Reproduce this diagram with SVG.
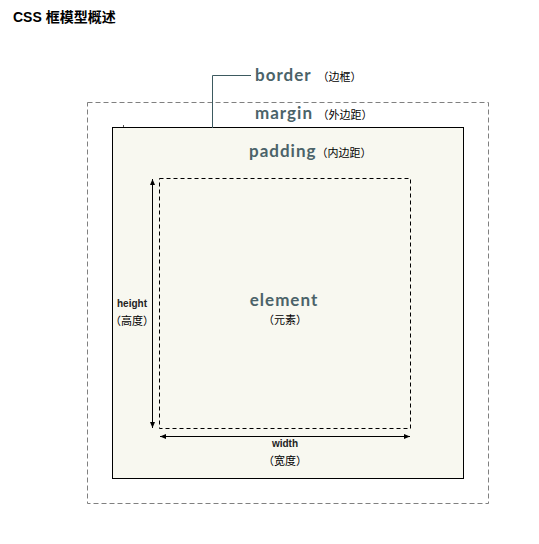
<svg xmlns="http://www.w3.org/2000/svg" width="539" height="544" viewBox="0 0 539 544">
<defs>
<style>
.title{font-family:"Liberation Sans","Noto Sans CJK SC",sans-serif;font-weight:bold;font-size:14px;fill:#000}
.big{font-family:Lato,"Open Sans",sans-serif;font-weight:bold;font-size:17px;letter-spacing:1px;fill:#4b6369}
.cn{font-family:"Noto Sans CJK SC",sans-serif;font-size:11px;fill:#000;font-feature-settings:"halt"}
.small{font-family:"Liberation Sans",sans-serif;font-weight:bold;font-size:10px;fill:#222}
.dim{stroke:#000;stroke-width:1;fill:none}
</style>
<marker id="ah" viewBox="0 0 6 6" refX="6" refY="3" markerWidth="6" markerHeight="6" orient="auto-start-reverse" markerUnits="userSpaceOnUse">
<path d="M0,0.5 L6,3 L0,5.5 Z" fill="#000"/>
</marker>
</defs>
<rect width="539" height="544" fill="#fff"/>
<text class="title" x="13" y="22">CSS 框模型概述</text>
<g id="margin">
<rect x="87.5" y="102.5" width="401" height="401" fill="none" stroke="#808080" stroke-width="1" stroke-dasharray="5,3"/>
<text class="big" x="255" y="119">margin</text>
<text class="cn" x="323" y="119">（外边距）</text>
</g>
<g id="border">
<rect x="112.5" y="127.5" width="351" height="351" fill="#f8f8f0" stroke="#000" stroke-width="1"/>
<line x1="123.5" y1="125" x2="123.5" y2="127" stroke="#555" stroke-width="1"/>
<text class="big" x="255" y="81">border</text>
<text class="cn" x="323" y="81">（边框）</text>
</g>
<g id="padding">
<rect x="159.5" y="178.5" width="251" height="250" fill="none" stroke="#000" stroke-width="1" stroke-dasharray="4,3"/>
<text class="big" x="249" y="157">padding</text>
<text class="cn" x="322" y="157">（内边距）</text>
</g>
<g id="element">
<text class="big" x="284" y="306" text-anchor="middle">element</text>
<text class="cn" x="285" y="324" text-anchor="middle">（元素）</text>
</g>
<g id="height">
<text class="small" x="132" y="307" text-anchor="middle">height</text>
<text class="cn" x="132" y="325" text-anchor="middle">（高度）</text>
</g>
<g id="width">
<text class="small" x="285" y="447" text-anchor="middle">width</text>
<text class="cn" x="285" y="465" text-anchor="middle">（宽度）</text>
</g>
<g id="connectors">
<polyline points="212.5,128 212.5,75.5 251,75.5" fill="none" stroke="#3d5a60" stroke-width="1"/>
<line class="dim" x1="152.5" y1="179" x2="152.5" y2="428" marker-start="url(#ah)" marker-end="url(#ah)"/>
<line class="dim" x1="160" y1="436.5" x2="410" y2="436.5" marker-start="url(#ah)" marker-end="url(#ah)"/>
</g>
</svg>
